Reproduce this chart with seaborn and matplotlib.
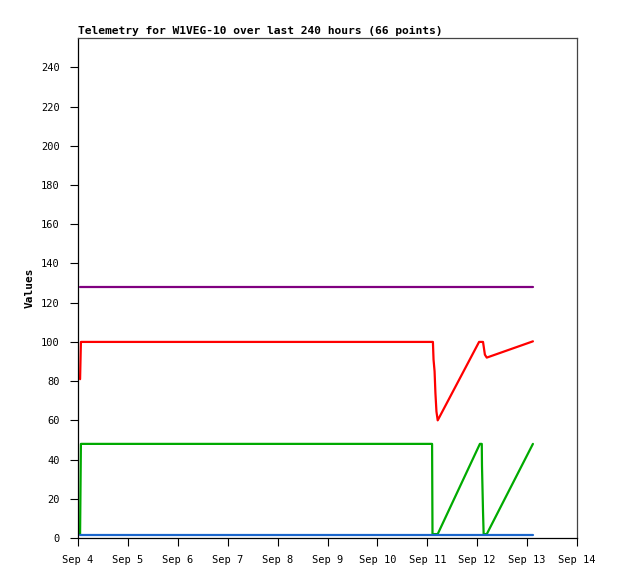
import matplotlib
matplotlib.use('Agg')
import matplotlib.pyplot as plt
import matplotlib.dates as mdates
import seaborn as sns
import pandas as pd

sns.set_style('ticks')
plt.rcParams['font.family'] = ['DejaVu Sans Mono', 'DejaVu Sans']
plt.rcParams['text.color'] = 'black'
plt.rcParams['axes.labelcolor'] = 'black'

# hours after Sep 4 00:00
purple_hours = [1.0, 218.8]
purple_values = [128, 128]

red_hours = [1.0, 1.4, 170.7, 171.0, 171.5, 171.9, 172.4, 173.0, 192.9, 194.8, 195.7, 196.6, 218.8]
red_values = [81, 100, 100, 91, 85, 74, 64.5, 60, 100, 100, 93.5, 92, 100.3]

green_hours = [1.0, 1.4, 170.3, 170.5, 173.0, 193.3, 194.2, 194.3, 194.8, 195.1, 196.6, 218.8]
green_values = [2, 48, 48, 2, 2, 48, 48, 37, 13.4, 2, 2, 48]

blue_hours = [1.0, 218.8]
blue_values = [1.6, 1.6]

series_names = ['purple', 'red', 'green', 'blue']
series_colors = ['#800080', '#ff0000', '#00aa00', '#1a66cc']

y_ticks = list(range(0, 241, 20))
title_text = 'Telemetry for W1VEG-10 over last 240 hours (66 points)'


def build_frame() -> pd.DataFrame:
    start = pd.Timestamp('2023-09-04 00:00')
    parts = []
    for name, hrs, vals in [('purple', purple_hours, purple_values),
                            ('red', red_hours, red_values),
                            ('green', green_hours, green_values),
                            ('blue', blue_hours, blue_values)]:
        parts.append(pd.DataFrame({
            'time': start + pd.to_timedelta(hrs, unit='h'),
            'value': vals,
            'series': name,
        }))
    return pd.concat(parts, ignore_index=True)


def main():
    df = build_frame()

    fig = plt.figure(figsize=(6.18, 5.79), dpi=100)
    ax = fig.add_axes([78 / 618, 1 - 538 / 579, (577 - 78) / 618, (538 - 38) / 579])

    sns.lineplot(data=df, x='time', y='value', hue='series', hue_order=series_names,
                 palette=dict(zip(series_names, series_colors)), estimator=None,
                 sort=False, units='series', linewidth=1.6, legend=False, ax=ax)

    ax.set_xlim(pd.Timestamp('2023-09-04'), pd.Timestamp('2023-09-14'))
    ax.set_ylim(0, 255)
    ax.set_yticks(y_ticks)
    ax.xaxis.set_major_locator(mdates.DayLocator())
    ax.xaxis.set_major_formatter(mdates.DateFormatter('%b %-d'))

    ax.tick_params(axis='both', direction='out', length=6, width=0.8,
                   labelsize=7.5, colors='black')
    ax.tick_params(axis='y', pad=7)
    ax.tick_params(axis='x', pad=6)

    for side in ['left', 'bottom']:
        ax.spines[side].set_color('black')
        ax.spines[side].set_linewidth(0.9)
    for side in ['top', 'right']:
        ax.spines[side].set_visible(True)
        ax.spines[side].set_color('#444444')
        ax.spines[side].set_linewidth(0.9)

    ax.set_xlabel('')
    ax.set_ylabel('Values', fontsize=8, fontweight='bold', labelpad=5)
    ax.set_title(title_text, loc='left', fontsize=8.1, fontweight='bold', pad=3)

    fig.savefig('out.png', dpi=100)


if __name__ == '__main__':
    main()
